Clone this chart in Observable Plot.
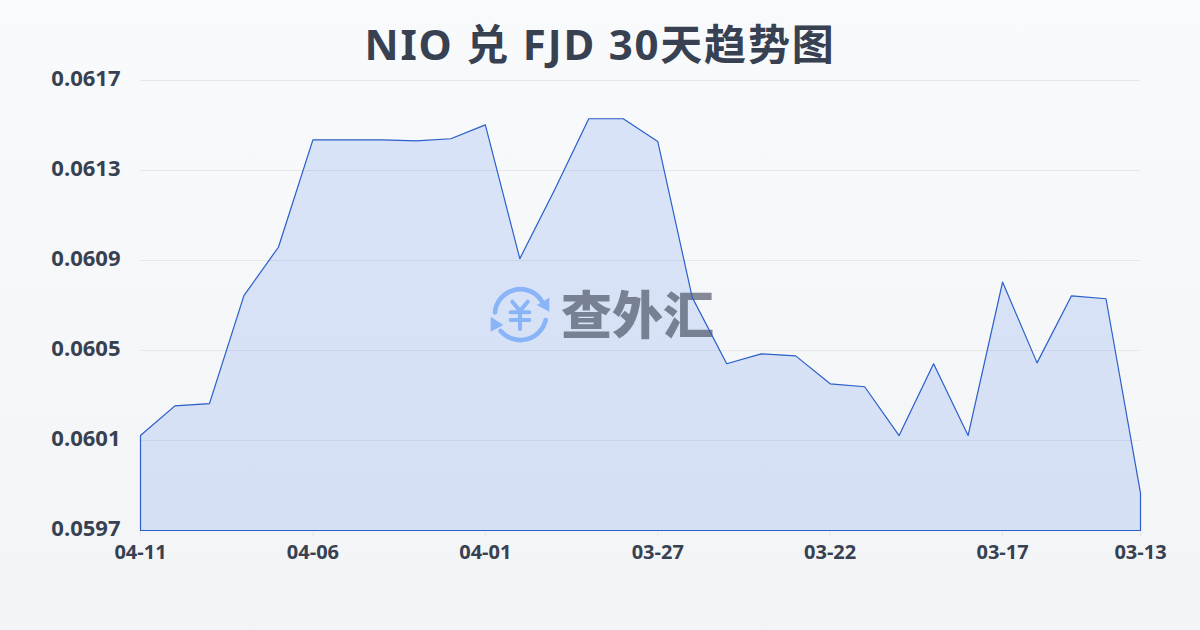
<!DOCTYPE html>
<html><head><meta charset="utf-8">
<script src="https://cdn.jsdelivr.net/npm/d3@7"></script>
<script src="https://cdn.jsdelivr.net/npm/@observablehq/plot@0.6"></script>
<style>
html,body{margin:0;padding:0;}
body{width:1200px;height:630px;overflow:hidden;position:relative;background:linear-gradient(180deg,#f8fafc 0%,#f3f4f6 100%);font-family:"Open Sans","Noto Sans CJK SC",sans-serif;}
#title{position:absolute;left:0;top:16px;width:1200px;text-align:center;font-size:42px;letter-spacing:1.8px;font-weight:700;color:#374151;line-height:56px;font-family:"Noto Sans","Noto Sans CJK SC",sans-serif;}
#mark{position:absolute;left:480px;top:275px;width:80px;height:80px;}
#chart{position:absolute;left:0;top:0;}
</style></head><body>
<div id="title">NIO 兑 FJD 30天趋势图</div>
<div id="chart"></div>
<svg id="mark" viewBox="0 0 240 240"><g fill="none" stroke="#8ab4f8" stroke-linecap="round"><path d="M45 112A76 76 0 0 1 185 78" stroke-width="14"/><path d="M197 135A78 78 0 0 1 62 168" stroke-width="14"/><path d="M97 80L120 108L143 80M92 112H148M92 135H148M120 108V162" stroke-width="12"/></g><path d="M208 68V110L170 90Z" fill="#8ab4f8"/><path d="M32 125V170L70 150Z" fill="#8ab4f8"/></svg>
<script>
const dates = ["04-11","04-10","04-09","04-08","04-07","04-06","04-05","04-04","04-03","04-02","04-01","03-31","03-30","03-29","03-28","03-27","03-26","03-25","03-24","03-23","03-22","03-21","03-20","03-19","03-18","03-17","03-16","03-15","03-14","03-13"];
const rates = [0.060122,0.060254,0.060264,0.060744,0.060959,0.061436,0.061436,0.061436,0.061432,0.061441,0.061503,0.060908,0.061211,0.06153,0.06153,0.061429,0.060736,0.060441,0.060485,0.060476,0.060352,0.060339,0.060122,0.060441,0.060122,0.060804,0.060445,0.060743,0.06073,0.059866];
const yTicks = [0.0597,0.0601,0.0605,0.0609,0.0613,0.0617];
const xTicks = ["04-11","04-06","04-01","03-27","03-22","03-17","03-13"];
const base = 0.0597;
const rows = dates.map((d,i)=>({d,v:rates[i]}));
const plot = Plot.plot({
  width:1200,height:630,
  marginLeft:140,marginRight:60,marginTop:80,marginBottom:100,
  style:{background:"transparent",fontFamily:'"Open Sans","Noto Sans CJK SC",sans-serif'},
  x:{type:"point",domain:dates,padding:0,round:false,label:null},
  y:{domain:[0.0597,0.0617],label:null},
  marks:[
    Plot.gridY(yTicks,{stroke:"#e5e7eb",strokeOpacity:1,strokeWidth:1}),
    Plot.ruleX(xTicks,{x:d=>d,y1:base,y2:base,insetBottom:-6,stroke:"#e5e7eb"}),
    Plot.areaY(rows,{x:"d",y1:base,y2:"v",fill:"#2563eb",fillOpacity:0.14,stroke:"none"}),
    Plot.text(["查外汇"],{frameAnchor:"middle",dx:-3,dy:12,fontSize:51,fontWeight:900,fill:"#374151",fillOpacity:0.6,fontFamily:'"Noto Sans CJK SC",sans-serif'}),
    Plot.lineY(rows.concat([{d:dates[29],v:base},{d:dates[0],v:base},rows[0]]),{x:"d",y:"v",stroke:"#2b5fc9",strokeWidth:1.2}),
    Plot.axisY(yTicks,{tickSize:0,tickPadding:20,dy:-2,fontSize:22,fontWeight:700,fill:"#374151",label:null,tickFormat:d=>d.toFixed(4)}),
    Plot.axisX(xTicks,{tickSize:0,tickPadding:14,fontSize:20,fontWeight:700,fill:"#374151",label:null})
  ]
});
document.getElementById("chart").appendChild(plot);
</script></body></html>
